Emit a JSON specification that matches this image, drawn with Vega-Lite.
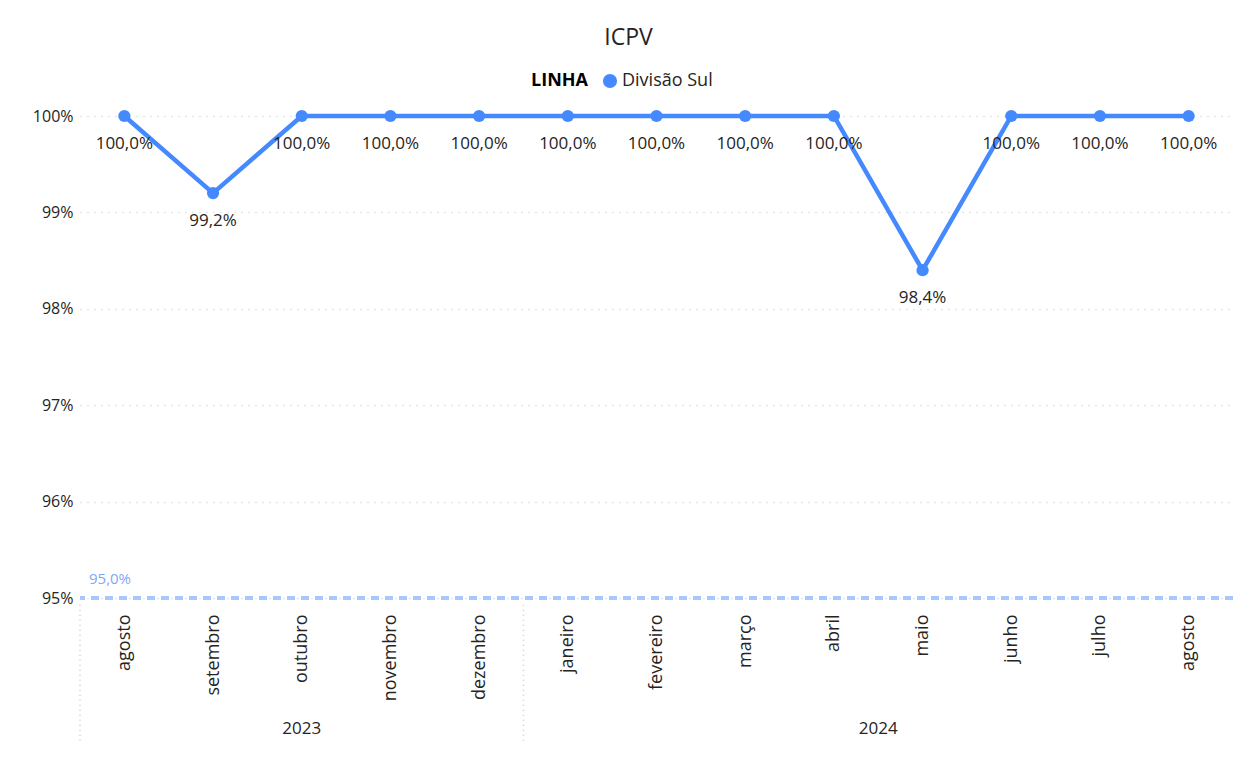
{
  "$schema": "https://vega.github.io/schema/vega-lite/v6.json",
  "autosize": {"type": "none"},
  "padding": {"left": 80, "top": 116, "right": 9, "bottom": 171},
  "width": 1153,
  "height": 482,
  "background": "white",
  "config": {
    "locale": {"number": {"decimal": ",", "thousands": ".", "grouping": [3], "currency": ["", " €"]}},
    "font": "Open Sans",
    "view": {"stroke": null}
  },
  "title": {"text": "ICPV", "fontSize": 23, "fontWeight": "normal", "color": "#252423", "font": "Open Sans", "anchor": "middle", "dx": -28, "offset": 22},
  "datasets": {
    "series": [
      {"idx": 0, "mes": "agosto", "ano": "2023", "linha": "Divisão Sul", "icpv": 1.0},
      {"idx": 1, "mes": "setembro", "ano": "2023", "linha": "Divisão Sul", "icpv": 0.992},
      {"idx": 2, "mes": "outubro", "ano": "2023", "linha": "Divisão Sul", "icpv": 1.0},
      {"idx": 3, "mes": "novembro", "ano": "2023", "linha": "Divisão Sul", "icpv": 1.0},
      {"idx": 4, "mes": "dezembro", "ano": "2023", "linha": "Divisão Sul", "icpv": 1.0},
      {"idx": 5, "mes": "janeiro", "ano": "2024", "linha": "Divisão Sul", "icpv": 1.0},
      {"idx": 6, "mes": "fevereiro", "ano": "2024", "linha": "Divisão Sul", "icpv": 1.0},
      {"idx": 7, "mes": "março", "ano": "2024", "linha": "Divisão Sul", "icpv": 1.0},
      {"idx": 8, "mes": "abril", "ano": "2024", "linha": "Divisão Sul", "icpv": 1.0},
      {"idx": 9, "mes": "maio", "ano": "2024", "linha": "Divisão Sul", "icpv": 0.984},
      {"idx": 10, "mes": "junho", "ano": "2024", "linha": "Divisão Sul", "icpv": 1.0},
      {"idx": 11, "mes": "julho", "ano": "2024", "linha": "Divisão Sul", "icpv": 1.0},
      {"idx": 12, "mes": "agosto", "ano": "2024", "linha": "Divisão Sul", "icpv": 1.0}
    ],
    "years": [
      {"ano": "2023", "pos": 2},
      {"ano": "2024", "pos": 8.5}
    ],
    "separators": [
      {"pos": -0.5},
      {"pos": 4.5}
    ],
    "meta": [
      {"meta": 0.95, "pos": -0.5}
    ]
  },
  "layer": [
    {
      "data": {"name": "separators"},
      "mark": {"type": "rule", "color": "#C8C8C8", "strokeDash": [1, 4], "strokeWidth": 1.5},
      "encoding": {
        "x": {"field": "pos", "type": "quantitative"},
        "y": {"datum": 0.9493},
        "y2": {"datum": 0.9348}
      }
    },
    {
      "data": {"name": "years"},
      "mark": {"type": "text", "fontSize": 17, "color": "#252423", "baseline": "middle"},
      "encoding": {
        "x": {"field": "pos", "type": "quantitative"},
        "y": {"datum": 0.9364},
        "text": {"field": "ano"}
      }
    },
    {
      "data": {"name": "meta"},
      "mark": {"type": "rule", "color": "#A8C7FA", "strokeWidth": 4, "strokeDash": [8, 6]},
      "encoding": {
        "y": {"field": "meta", "type": "quantitative"}
      }
    },
    {
      "data": {"name": "meta"},
      "mark": {"type": "text", "fontSize": 15, "color": "#7FA8F7", "align": "left", "baseline": "middle", "dx": 9, "dy": -19},
      "encoding": {
        "x": {"field": "pos", "type": "quantitative"},
        "y": {"field": "meta", "type": "quantitative"},
        "text": {"field": "meta", "type": "quantitative", "format": ".1%"}
      }
    },
    {
      "data": {"name": "series"},
      "mark": {"type": "line", "color": "#4589FF", "strokeWidth": 4.5},
      "encoding": {
        "x": {"field": "idx", "type": "quantitative"},
        "y": {"field": "icpv", "type": "quantitative"}
      }
    },
    {
      "data": {"name": "series"},
      "mark": {"type": "point", "filled": true, "opacity": 1, "size": 150},
      "encoding": {
        "x": {
          "field": "idx", "type": "quantitative",
          "scale": {"domain": [-0.5, 12.5], "nice": false, "zero": false},
          "axis": {
            "title": null, "values": [0, 1, 2, 3, 4, 5, 6, 7, 8, 9, 10, 11, 12],
            "labelExpr": "['agosto','setembro','outubro','novembro','dezembro','janeiro','fevereiro','março','abril','maio','junho','julho','agosto'][datum.value]",
            "labelAngle": -90, "labelFontSize": 18, "labelColor": "#252423", "labelPadding": 16,
            "grid": false, "ticks": false, "domain": false, "labelFont": "Open Sans", "labelFlush": false, "labelOverlap": false
          }
        },
        "y": {
          "field": "icpv", "type": "quantitative",
          "scale": {"domain": [0.95, 1.0], "nice": false, "zero": false},
          "axis": {
            "title": null, "values": [0.95, 0.96, 0.97, 0.98, 0.99, 1.0], "format": ".0%",
            "labelFontSize": 16, "labelColor": "#252423", "labelPadding": 7,
            "grid": true, "gridColor": "#CFCFCF", "gridDash": [1, 6], "gridWidth": 1.5,
            "ticks": false, "domain": false, "labelFont": "Open Sans"
          }
        },
        "color": {
          "field": "linha", "type": "nominal",
          "scale": {"range": ["#4589FF"]},
          "legend": {
            "title": "LINHA", "orient": "none", "direction": "horizontal", "titleOrient": "left",
            "legendX": 451, "legendY": -44, "titleFontSize": 18, "titleFontWeight": "bold", "titleColor": "#000000",
            "labelFontSize": 18, "labelColor": "#252423", "symbolType": "circle", "symbolSize": 200,
            "titlePadding": 13, "labelOffset": 3, "titleFont": "Open Sans", "labelFont": "Open Sans"
          }
        }
      }
    },
    {
      "data": {"name": "series"},
      "mark": {"type": "text", "fontSize": 17, "color": "#252423", "baseline": "middle", "dy": 28},
      "encoding": {
        "x": {"field": "idx", "type": "quantitative"},
        "y": {"field": "icpv", "type": "quantitative"},
        "text": {"field": "icpv", "type": "quantitative", "format": ".1%"}
      }
    }
  ]
}
